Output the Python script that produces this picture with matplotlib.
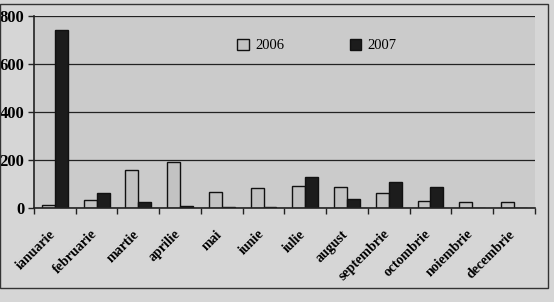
import numpy as np
import matplotlib.pyplot as plt
import matplotlib.transforms as mtransforms
from matplotlib.patches import Rectangle

months = ['ianuarie', 'februarie', 'martie', 'aprilie', 'mai', 'iunie',
          'iulie', 'august', 'septembrie', 'octombrie', 'noiembrie', 'decembrie']
vals_2006 = [12, 33, 158, 192, 67, 83, 92, 87, 62, 29, 25, 25]
vals_2007 = [742, 62, 25, 8, 5, 3, 129, 37, 108, 87, 0, 0]
yticks = [0, 200, 400, 600, 800]

plt.rcParams['font.family'] = ['Liberation Serif', 'DejaVu Serif']

fig = plt.figure(figsize=(5.54, 3.02), dpi=100)
fig.patch.set_facecolor('#d6d6d6')
ax = fig.add_axes([0.0614, 0.311, 0.904, 0.636])
ax.set_facecolor('#cbcbcb')

x = np.arange(len(months))
w = 0.31
ax.bar(x - w / 2, vals_2006, w, color='#c2c2c2', edgecolor='#111111',
       linewidth=1.0, label='2006')
ax.bar(x + w / 2, vals_2007, w, color='#1c1c1c', edgecolor='#111111',
       linewidth=1.0, label='2007')

ax.set_xlim(-0.5, len(months) - 0.5)
ax.set_ylim(0, 800)
ax.set_yticks(yticks)
ax.set_yticklabels([str(v) for v in yticks], fontsize=12, fontweight='bold')
ax.yaxis.grid(True, color='#222222', linewidth=0.9)
ax.set_axisbelow(True)

ax.set_xticks(x)
ax.set_xticklabels(months, rotation=45, ha='right', rotation_mode='anchor',
                   fontsize=10, fontweight='bold')
ax.tick_params(axis='x', which='major', length=0, pad=14)
shift = mtransforms.ScaledTranslation(-6 / 100, 0, fig.dpi_scale_trans)
for lab in ax.get_xticklabels():
    lab.set_transform(lab.get_transform() + shift)
ax.set_xticks(np.arange(len(months) + 1) - 0.5, minor=True)
ax.tick_params(axis='x', which='minor', length=4, width=1, color='#222222')
ax.tick_params(axis='y', length=4, width=1, color='#222222', pad=3)

for side in ['top', 'right']:
    ax.spines[side].set_visible(False)
for side in ['left', 'bottom']:
    ax.spines[side].set_color('#222222')
    ax.spines[side].set_linewidth(1.2)

leg = ax.legend(loc='upper left', bbox_to_anchor=(0.38, 0.95), ncol=2,
                frameon=False, fontsize=10.5, handlelength=0.8, handleheight=0.8,
                handletextpad=0.4, columnspacing=4.5)

# outer chart border
fig.patches.append(Rectangle((0.0, 0.046), 0.989, 0.94, transform=fig.transFigure,
                             fill=False, edgecolor='#333333', linewidth=1.0))

fig.savefig('out.png', dpi=100, facecolor=fig.get_facecolor())
